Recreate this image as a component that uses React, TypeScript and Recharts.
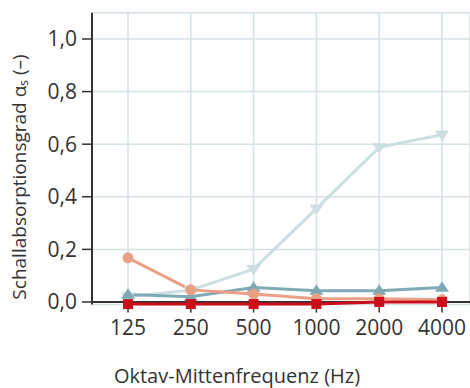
import React from 'react';
import { LineChart, Line, XAxis, YAxis, CartesianGrid, ReferenceLine } from 'recharts';

// Octave band centre frequencies (Hz)
const frequencies = ['125', '250', '500', '1000', '2000', '4000'];

// Sound absorption coefficients per octave band
const salmonSeries = [0.168, 0.046, 0.03, 0.012, 0.012, 0.008];
const steelSeries = [0.028, 0.02, 0.055, 0.043, 0.043, 0.055];
const lightSeries = [0.02, 0.045, 0.125, 0.355, 0.588, 0.636];
const redSeries = [-0.008, -0.008, -0.008, -0.008, 0, 0];

const yTicks = [0, 0.2, 0.4, 0.6, 0.8, 1.0];

const data = frequencies.map((f, i) => ({
  f,
  salmon: salmonSeries[i],
  steel: steelSeries[i],
  light: lightSeries[i],
  red: redSeries[i],
}));

const FONT = '"Open Sans", "Noto Sans", sans-serif';
const AXIS = '#333333';
const GRID = '#d4e1e6';

const triangleDot = (color: string, down: boolean) => (props: any) => {
  const { cx, cy, index } = props;
  if (cx == null || cy == null) return null;
  const s = 7;
  const d = down
    ? `M${cx - s},${cy - s * 0.6} L${cx + s},${cy - s * 0.6} L${cx},${cy + s * 0.9} Z`
    : `M${cx - s},${cy + s * 0.6} L${cx + s},${cy + s * 0.6} L${cx},${cy - s * 0.9} Z`;
  return <path key={`tri-${color}-${index}`} d={d} fill={color} />;
};

const squareDot = (color: string) => (props: any) => {
  const { cx, cy, index } = props;
  if (cx == null || cy == null) return null;
  return <rect key={`sq-${index}`} x={cx - 5} y={cy - 5} width={10} height={10} fill={color} />;
};

const yLabel = () => (
  <text
    x={19}
    y={177}
    transform="rotate(-90 19 177)"
    textAnchor="middle"
    dominantBaseline="central"
    fontFamily={FONT}
    fontSize={19}
    fill={AXIS}
  >
    Schallabsorptionsgrad α
    <tspan fontSize={12} dy={4}>s</tspan>
    <tspan dy={-4}> (–)</tspan>
  </text>
);

const xLabel = () => (
  <text
    x={237}
    y={375}
    textAnchor="middle"
    dominantBaseline="central"
    fontFamily={FONT}
    fontSize={20}
    fill={AXIS}
  >
    Oktav-Mittenfrequenz (Hz)
  </text>
);

export default function App() {
  return (
    <div style={{ position: 'absolute', left: 0, top: 0, background: '#fff' }}>
      <LineChart
        width={470}
        height={388}
        data={data}
        margin={{ top: 12.7, right: 0, bottom: 33.4, left: 0 }}
      >
        <CartesianGrid stroke={GRID} strokeWidth={1.5} />
        <XAxis
          dataKey="f"
          height={50}
          padding={{ left: 36, right: 28 }}
          axisLine={false}
          tickLine={{ stroke: AXIS, strokeWidth: 1.5 }}
          tickSize={8}
          tickMargin={7}
          tick={{ fill: AXIS, fontFamily: FONT, fontSize: 21 }}
          label={{ content: xLabel }}
        />
        <YAxis
          width={92}
          domain={[-0.01, 1.1]}
          ticks={yTicks}
          interval={0}
          tickFormatter={(v: number) => v.toFixed(1).replace('.', ',')}
          axisLine={{ stroke: AXIS, strokeWidth: 2 }}
          tickLine={{ stroke: AXIS, strokeWidth: 1.5 }}
          tickSize={10}
          tickMargin={5}
          tick={{ fill: AXIS, fontFamily: FONT, fontSize: 21 }}
          label={{ content: yLabel }}
        />
        <ReferenceLine y={0} stroke={AXIS} strokeWidth={2} />
        <Line
          dataKey="light"
          stroke="#cddee3"
          strokeWidth={3}
          dot={triangleDot('#cddee3', true)}
          isAnimationActive={false}
        />
        <Line
          dataKey="steel"
          stroke="#80a9b6"
          strokeWidth={3}
          dot={triangleDot('#80a9b6', false)}
          isAnimationActive={false}
        />
        <Line
          dataKey="salmon"
          stroke="#e9a084"
          strokeWidth={3}
          dot={{ r: 5.5, fill: '#e9a084', stroke: 'none' }}
          isAnimationActive={false}
        />
        <Line
          dataKey="red"
          stroke="#cc0d1c"
          strokeWidth={3}
          dot={squareDot('#cc0d1c')}
          isAnimationActive={false}
        />
      </LineChart>
    </div>
  );
}
